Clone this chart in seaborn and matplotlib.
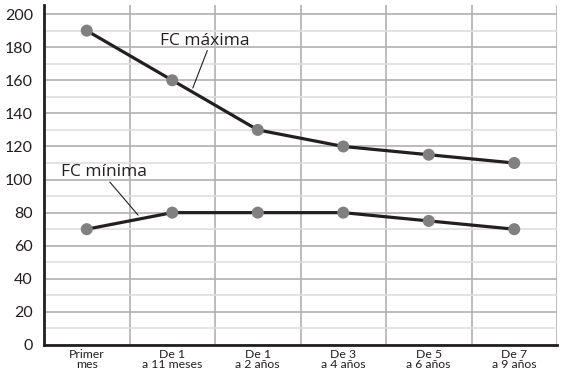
import pandas as pd
import seaborn as sns
import matplotlib.pyplot as plt
from matplotlib.ticker import MultipleLocator, FixedLocator

# age groups and heart-rate values
categories = ['Primer\nmes', 'De 1\na 11 meses', 'De 1\na 2 años',
              'De 3\na 4 años', 'De 5\na 6 años', 'De 7\na 9 años']
fc_maxima = [190, 160, 130, 120, 115, 110]
fc_minima = [70, 80, 80, 80, 75, 70]

df = pd.DataFrame({
    'pos': list(range(len(categories))) * 2,
    'fc': fc_maxima + fc_minima,
    'serie': ['FC máxima'] * len(categories) + ['FC mínima'] * len(categories),
})

sns.set_style('white')
plt.rcParams['font.family'] = ['Lato', 'DejaVu Sans']

fig = plt.figure(figsize=(5.62, 3.79), dpi=100)
ax = fig.add_axes([44 / 562, 1 - 345 / 379, (557 - 44) / 562, 340 / 379])

line_col = '#231f20'
dot_col = '#808080'

sns.lineplot(data=df, x='pos', y='fc', units='serie', estimator=None,
             color=line_col, linewidth=2.3, ax=ax, zorder=3)
sns.scatterplot(data=df, x='pos', y='fc', color=dot_col, s=75,
                edgecolor='none', ax=ax, zorder=4)

ax.set_xlim(-0.5, len(categories) - 0.5)
ax.set_ylim(0, 205.5)

# grid: vertical at category boundaries, horizontal every 10
ax.yaxis.set_major_locator(MultipleLocator(20))
ax.yaxis.set_minor_locator(MultipleLocator(10))
ax.set_xticks(range(len(categories)))
ax.set_xticklabels(categories, fontsize=8.8, color='#231f20', linespacing=0.9)
ax.xaxis.set_minor_locator(FixedLocator([i - 0.5 for i in range(len(categories) + 1)]))

ax.grid(which='major', axis='y', color='#b0b0b0', linewidth=1.2)
ax.grid(which='minor', axis='y', color='#dedede', linewidth=1.2)
ax.grid(which='minor', axis='x', color='#b0b0b0', linewidth=1.2)
ax.grid(which='major', axis='x', visible=False)
ax.set_axisbelow(True)

ax.tick_params(axis='x', which='major', length=0, pad=3)
ax.tick_params(axis='x', which='minor', length=5, color='#b0b0b0', width=1)
ax.tick_params(axis='y', which='major', length=6, color=line_col, width=1,
               labelsize=11.5, labelcolor='#231f20', pad=2)
ax.tick_params(axis='y', which='minor', length=0)

for s in ['top', 'right']:
    ax.spines[s].set_visible(False)
for s in ['left', 'bottom']:
    ax.spines[s].set_color(line_col)
    ax.spines[s].set_linewidth(2)

ax.set_xlabel('')
ax.set_ylabel('')

# labels with leader lines
lab_font = ['Open Sans', 'DejaVu Sans']
ax.text(1.38, 184, 'FC máxima', ha='center', va='center', fontsize=12.5,
        color='#231f20', family=lab_font)
ax.annotate('', xy=(1.24, 155.3), xytext=(1.41, 178),
            arrowprops=dict(arrowstyle='-', color=line_col, lw=0.8,
                            shrinkA=0, shrinkB=0))
ax.text(0.20, 104.5, 'FC mínima', ha='center', va='center', fontsize=12.5,
        color='#231f20', family=lab_font)
ax.annotate('', xy=(0.60, 78.5), xytext=(0.27, 98.5),
            arrowprops=dict(arrowstyle='-', color=line_col, lw=0.8,
                            shrinkA=0, shrinkB=0))

fig.savefig('out.png', dpi=100)
